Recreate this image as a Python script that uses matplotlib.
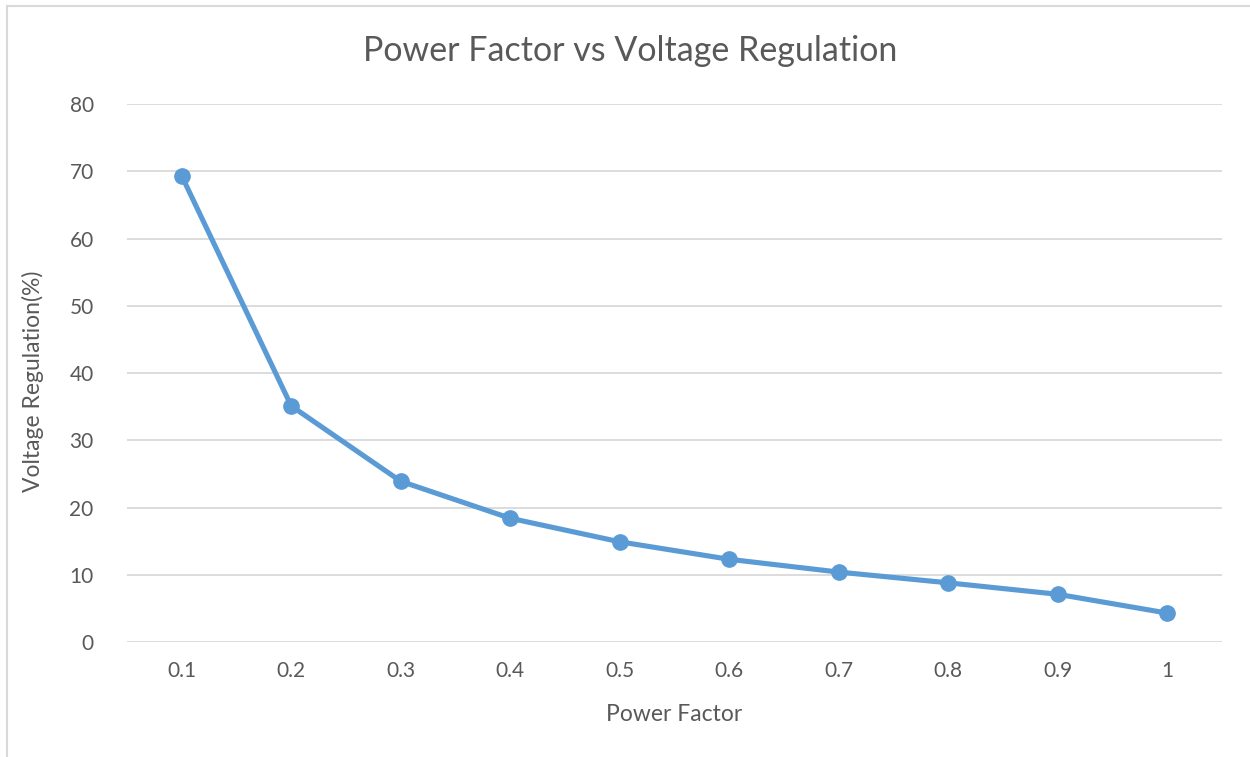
import matplotlib.pyplot as plt
import matplotlib.lines as mlines

# Data
power_factor = ['0.1', '0.2', '0.3', '0.4', '0.5', '0.6', '0.7', '0.8', '0.9', '1']
regulation = [69.3, 35.1, 23.9, 18.4, 14.9, 12.3, 10.4, 8.8, 7.1, 4.3]
y_ticks = [0, 10, 20, 30, 40, 50, 60, 70, 80]

text_color = '#595959'
grid_color = '#D9D9D9'
line_color = '#5B9BD5'

plt.rcParams['font.family'] = ['Lato', 'DejaVu Sans']

fig = plt.figure(figsize=(12.5, 7.57), dpi=100)
ax = fig.add_axes([0.1016, 0.1519, 0.876, 0.7107])

x = range(len(power_factor))
ax.plot(x, regulation, color=line_color, linewidth=3.7, marker='o',
        markersize=11, solid_capstyle='round', zorder=3)

ax.set_xlim(-0.5, len(power_factor) - 0.5)
ax.set_ylim(0, 80)
ax.set_yticks(y_ticks)
ax.set_xticks(list(x))
ax.set_xticklabels(power_factor)

ax.grid(axis='y', color=grid_color, linewidth=1.3)
ax.set_axisbelow(True)
for s in ax.spines.values():
    s.set_visible(False)
ax.tick_params(length=0, labelsize=15, colors=text_color)
ax.tick_params(axis='y', pad=24)
ax.tick_params(axis='x', pad=14)

ax.set_xlabel('Power Factor', fontsize=16.5, color=text_color, labelpad=16)
ax.set_ylabel('Voltage Regulation(%)', fontsize=16.5, color=text_color, labelpad=18)
ax.yaxis.label.set_y(0.485)
fig.text(0.504, 0.933, 'Power Factor vs Voltage Regulation', fontsize=24.5,
         color=text_color, ha='center', va='center')

# chart frame (top and left edges only visible in the original)
fig.add_artist(mlines.Line2D([0.0056, 1.0], [0.9921, 0.9921], color=grid_color,
                             linewidth=1.5, transform=fig.transFigure))
fig.add_artist(mlines.Line2D([0.0056, 0.0056], [0.0, 0.9921], color=grid_color,
                             linewidth=1.5, transform=fig.transFigure))

plt.savefig('out.png', dpi=100)
